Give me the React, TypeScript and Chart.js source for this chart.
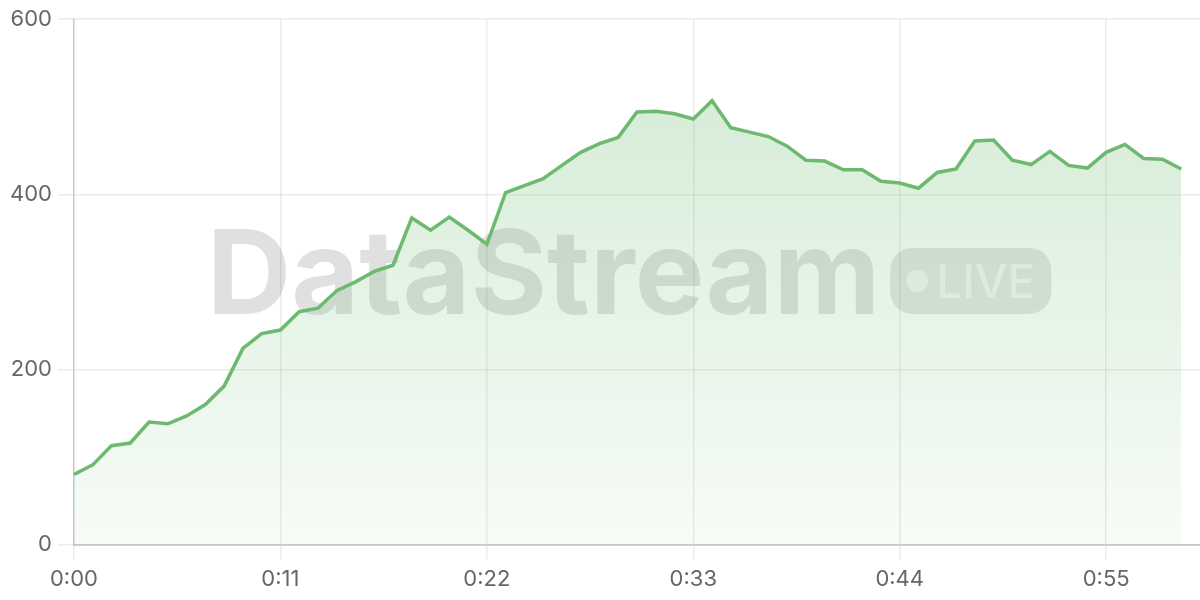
import React, { useEffect, useRef } from "react";
import { Chart, registerables } from "chart.js";

Chart.register(...registerables);

const timeLabels: string[] = [
  "0:00", "0:01", "0:02", "0:03", "0:04", "0:05", "0:06", "0:07", "0:08", "0:09",
  "0:10", "0:11", "0:12", "0:13", "0:14", "0:15", "0:16", "0:17", "0:18", "0:19",
  "0:20", "0:21", "0:22", "0:23", "0:24", "0:25", "0:26", "0:27", "0:28", "0:29",
  "0:30", "0:31", "0:32", "0:33", "0:34", "0:35", "0:36", "0:37", "0:38", "0:39",
  "0:40", "0:41", "0:42", "0:43", "0:44", "0:45", "0:46", "0:47", "0:48", "0:49",
  "0:50", "0:51", "0:52", "0:53", "0:54", "0:55", "0:56", "0:57", "0:58", "0:59",
  "1:00",
];

const streamValues: number[] = [
  80, 91, 113, 116, 140, 138, 147, 160, 181, 224,
  241, 245, 266, 270, 290, 300, 312, 319, 373, 359,
  374, 359, 343, 402, 410, 418, 433, 448, 458, 465,
  494, 495, 492, 486, 507, 476, 471, 466, 455, 439,
  438, 428, 428, 415, 413, 407, 425, 429, 461, 462,
  439, 434, 449, 433, 430, 448, 457, 441, 440, 429,
];

const shownTickIndices: number[] = [0, 11, 22, 33, 44, 55];
const yTickValues: number[] = [0, 200, 400, 600];

const watermarkTitle = "DataStream";
const watermarkBadge = "LIVE";

const FONT = "Inter, 'Helvetica Neue', Arial, sans-serif";

const watermarkPlugin = {
  id: "watermark",
  beforeDatasetsDraw(chart: any) {
    const { ctx, chartArea } = chart;
    const cx = (chartArea.left + chartArea.right) / 2 - 8;
    const baseline = (chartArea.top + chartArea.bottom) / 2 + 32;
    ctx.save();
    ctx.font = `bold 117px ${FONT}`;
    const titleW = ctx.measureText(watermarkTitle).width;
    const gap = 10;
    const badgeW = 161;
    const badgeH = 66;
    const total = titleW + gap + badgeW;
    const left = cx - total / 2;
    ctx.fillStyle = "rgba(0,0,0,0.12)";
    ctx.textBaseline = "alphabetic";
    ctx.textAlign = "left";
    ctx.fillText(watermarkTitle, left, baseline);
    const bx = left + titleW + gap;
    const by = baseline - badgeH;
    ctx.beginPath();
    ctx.roundRect(bx, by, badgeW, badgeH, 22);
    ctx.fillStyle = "rgba(0,0,0,0.1)";
    ctx.fill();
    ctx.fillStyle = "rgba(255,255,255,0.6)";
    ctx.beginPath();
    ctx.arc(bx + 27, by + 33, 11, 0, Math.PI * 2);
    ctx.fill();
    ctx.font = `500 46px ${FONT}`;
    ctx.fillText(watermarkBadge, bx + 46, by + 50);
    ctx.restore();
  },
};

export default function App() {
  const canvasRef = useRef<HTMLCanvasElement | null>(null);

  useEffect(() => {
    if (!canvasRef.current) return;
    const chart = new Chart(canvasRef.current, {
      type: "line",
      data: {
        labels: timeLabels,
        datasets: [
          {
            data: streamValues,
            borderColor: "#6cb96f",
            borderWidth: 3.5,
            pointRadius: 0,
            tension: 0,
            fill: "origin",
            backgroundColor: (context: any) => {
              const { chart } = context;
              const area = chart.chartArea;
              if (!area) return "rgba(102,187,106,0.2)";
              const g = chart.ctx.createLinearGradient(0, area.top, 0, area.bottom);
              g.addColorStop(0, "rgba(102,187,106,0.3)");
              g.addColorStop(1, "rgba(102,187,106,0.05)");
              return g;
            },
          },
        ],
      },
      options: {
        animation: false,
        responsive: true,
        maintainAspectRatio: false,
        layout: { padding: { top: 11, right: 0, bottom: 0, left: 4 } },
        plugins: {
          legend: { display: false },
          tooltip: { enabled: false },
        },
        scales: {
          x: {
            grid: {
              color: "rgba(0,0,0,0.08)",
              tickLength: 15,
              lineWidth: 1.5,
            },
            border: { color: "rgba(0,0,0,0.15)", width: 2 },
            ticks: {
              autoSkip: false,
              maxRotation: 0,
              padding: 7,
              color: "#666",
              font: { family: FONT, size: 22 },
              callback: (_v: any, index: number) =>
                shownTickIndices.includes(index) ? timeLabels[index] : null,
            },
          },
          y: {
            min: yTickValues[0],
            max: yTickValues[yTickValues.length - 1],
            grid: {
              color: "rgba(0,0,0,0.08)",
              tickLength: 16,
              lineWidth: 1.5,
            },
            border: { color: "rgba(0,0,0,0.15)", width: 1.5 },
            afterBuildTicks: (axis: any) => {
              axis.ticks = yTickValues.map((v) => ({ value: v }));
            },
            ticks: {
              padding: 6,
              color: "#666",
              font: { family: FONT, size: 22 },
            },
          },
        },
      },
      plugins: [watermarkPlugin],
    });
    return () => chart.destroy();
  }, []);

  return (
    <div style={{ position: "fixed", left: 0, top: 0, width: 1200, height: 600, background: "#fff" }}>
      <canvas ref={canvasRef} />
    </div>
  );
}
